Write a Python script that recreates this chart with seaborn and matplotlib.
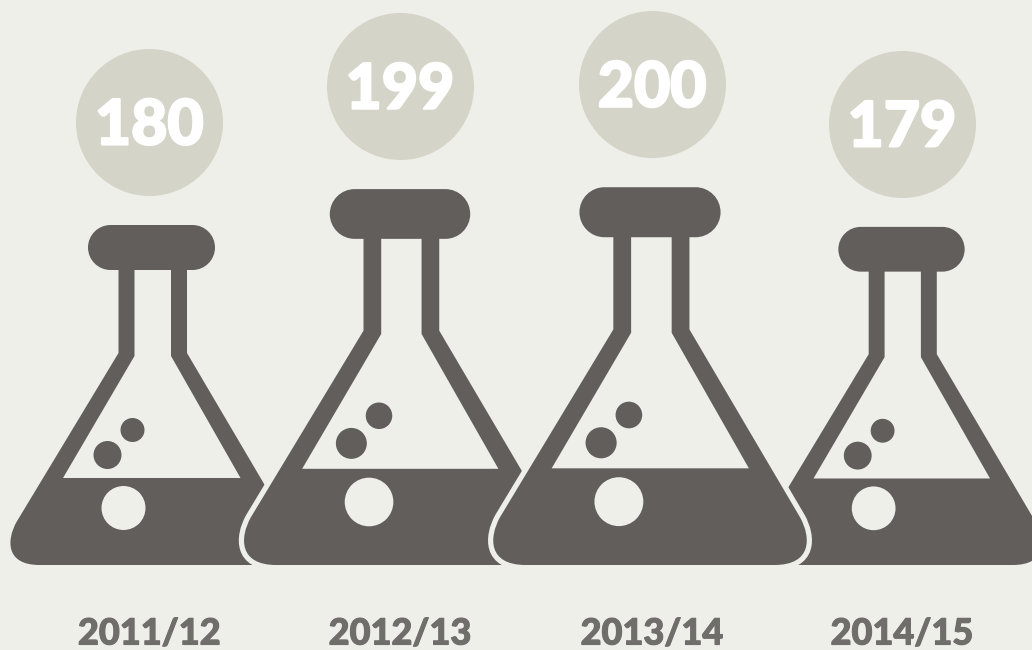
import numpy as np
import pandas as pd
import seaborn as sns
import matplotlib.pyplot as plt
import matplotlib.patheffects as pe
from matplotlib.path import Path
from matplotlib.patches import PathPatch

seasons = ["2011/12", "2012/13", "2013/14", "2014/15"]
values = [180, 199, 200, 179]

BG = "#eeefe9"
FLASK = "#625e5c"
BUBBLE = "#d5d4c8"
LABEL = "#706e6b"

W, H = 1032, 650
BASE_PX = 565       # pixel row of the flask bottoms
PX_PER_VALUE = 340 / 180
STEP_PX = 250
FIRST_PX = 151.5
FLASK_NUDGE = [0, -1.5, -1.5, 0]    # the flasks are not quite evenly spaced
BUBBLE_NUDGE = [-2.2, -1.5, 0.5, 0.5]

sns.set_theme(style="white")
plt.rcParams["font.family"] = ["Lato", "DejaVu Sans"]

M, L, C, Z = Path.MOVETO, Path.LINETO, Path.CURVE4, Path.CLOSEPOLY
K = 0.5523


def circle_path(u, v, r):
    return Path(Path.unit_circle().vertices * r + [u, v], Path.unit_circle().codes)


def outline_path():
    # flask shape in pixels around the centre of the base, drawn for value 180
    r = 22.5
    cl, cr, cb, ct = -63.5, 63.5, 295, 340
    verts = [(-33, 295), (-33, 212), (-135, 43)]
    codes = [M, L, L]
    verts += [(-145, 25), (-146, 0), (-112, 0)]
    codes += [C, C, C]
    verts += [(112, 0), (146, 0), (145, 25), (135, 43)]
    codes += [L, C, C, C]
    verts += [(35.5, 212), (35.5, 295)]
    codes += [L, L]
    verts += [(cr - r, cb)]
    codes += [L]
    verts += [(cr - r + K * r, cb), (cr, cb + r - K * r), (cr, cb + r)]
    codes += [C, C, C]
    verts += [(cr, cb + r + K * r), (cr - r + K * r, ct), (cr - r, ct)]
    codes += [C, C, C]
    verts += [(cl + r, ct)]
    codes += [L]
    verts += [(cl + r - K * r, ct), (cl, cb + r + K * r), (cl, cb + r)]
    codes += [C, C, C]
    verts += [(cl, cb + r - K * r), (cl + r - K * r, cb), (cl + r, cb)]
    codes += [C, C, C]
    verts += [(-33, 295)]
    codes += [Z]
    return Path(verts, codes)


OUTER = outline_path()
HOLE = Path([(-17, 295), (-17, 209), (-88.5, 87), (89, 87), (19.5, 209), (19.5, 295), (-17, 295)],
            [M, L, L, L, L, L, Z])
LIQUID_DOT = circle_path(-28, 57, 22)
DOTS = [circle_path(-44, 110, 14), circle_path(-19, 135, 12)]


def add_flask(ax, i, value, halo):
    # x is the season index, y the value: the flask height equals its value
    def place(p):
        scale = value / 180
        xy = np.column_stack([i + (p.vertices[:, 0] * scale + FLASK_NUDGE[i]) / STEP_PX,
                              p.vertices[:, 1] * scale / PX_PER_VALUE])
        return Path(xy, p.codes)

    if halo:
        ax.add_patch(PathPatch(place(OUTER), facecolor=BG, edgecolor=BG, lw=7.5, joinstyle="round"))
    ax.add_patch(PathPatch(place(OUTER), facecolor=FLASK, edgecolor="none"))
    ax.add_patch(PathPatch(place(HOLE), facecolor=BG, edgecolor="none"))
    ax.add_patch(PathPatch(place(LIQUID_DOT), facecolor=BG, edgecolor="none"))
    for d in DOTS:
        ax.add_patch(PathPatch(place(d), facecolor=FLASK, edgecolor="none"))


fig = plt.figure(figsize=(W / 100, H / 100), dpi=100, facecolor=BG)
ax = fig.add_axes([0, 0, 1, 1], facecolor=BG)
ax.axis("off")

# later flasks sit on top of their neighbours, 2013/14 last
add_flask(ax, 0, values[0], False)
add_flask(ax, 1, values[1], True)
add_flask(ax, 3, values[3], False)
add_flask(ax, 2, values[2], True)

df = pd.DataFrame({"i": range(len(values)), "value": values})
df["bubble_x"] = df["i"] + np.array(BUBBLE_NUDGE) / STEP_PX
df["bubble"] = df["value"] + 103 / PX_PER_VALUE
sns.scatterplot(data=df, x="bubble_x", y="bubble", s=(147 * 0.72) ** 2, color=BUBBLE, linewidth=0,
                legend=False, ax=ax, zorder=5)
ax.set_xlim(-FIRST_PX / STEP_PX, (W - FIRST_PX) / STEP_PX)
ax.set_ylim(-(H - BASE_PX) / PX_PER_VALUE, BASE_PX / PX_PER_VALUE)

for i, v in enumerate(values):
    ax.text(df["bubble_x"][i], df["bubble"][i] + 1 / PX_PER_VALUE, str(v), color="white", fontsize=45,
            fontweight="black", ha="center", va="center_baseline", zorder=6,
            path_effects=[pe.withStroke(linewidth=1.6, foreground="white")])
    ax.text(df["bubble_x"][i], -66 / PX_PER_VALUE, seasons[i], color=LABEL, fontsize=26, fontweight="black",
            ha="center", va="center_baseline", zorder=6,
            path_effects=[pe.withStroke(linewidth=0.8, foreground=LABEL)])

fig.savefig("out.png", dpi=100, facecolor=BG)
